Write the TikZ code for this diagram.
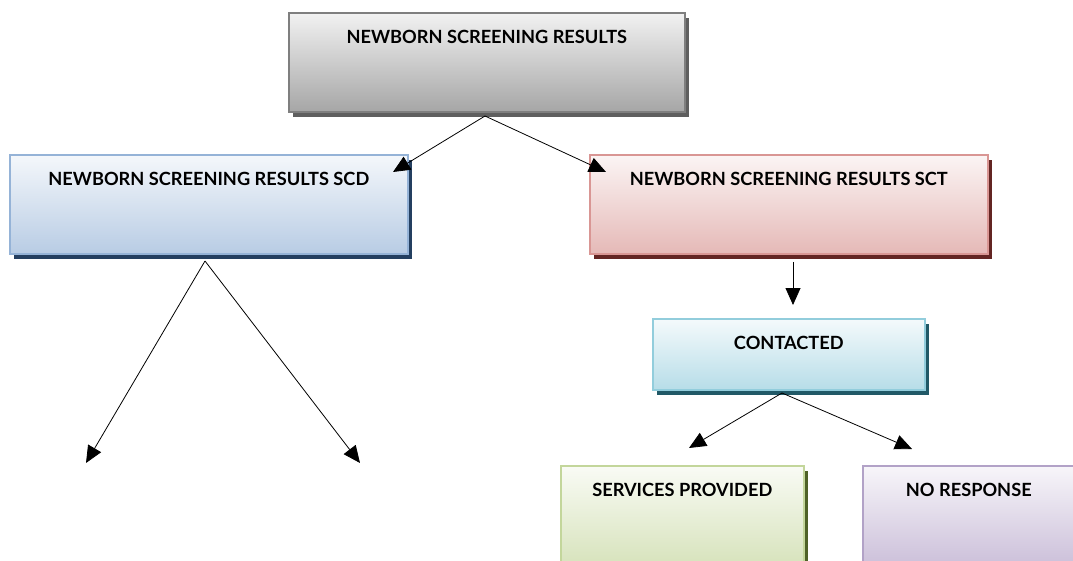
\documentclass[tikz,border=0pt]{standalone}
\usepackage{fontspec}
\setmainfont{Lato}
\usetikzlibrary{shadows,arrows.meta}
\tikzset{
  box/.style n args={3}{draw=#1, line width=1.6pt, top color=#3!15!white, bottom color=#3,
     drop shadow={shadow xshift=4pt, shadow yshift=-5pt, fill=#2, opacity=1},
     anchor=north west, inner sep=0pt, align=center,
     font=\bfseries\fontsize{18.2}{21}\selectfont, text height=31pt},
  conn/.style={draw=black, line width=0.8pt, -{Triangle[length=17pt,width=15pt]}},
}
\definecolor{gB}{HTML}{7F7F7F}\definecolor{gS}{HTML}{5F5F5F}\definecolor{gF}{HTML}{A6A6A6}
\definecolor{bB}{HTML}{95B3D7}\definecolor{bS}{HTML}{243F60}\definecolor{bF}{HTML}{B8CCE4}
\definecolor{rB}{HTML}{D99694}\definecolor{rS}{HTML}{632523}\definecolor{rF}{HTML}{E5B9B7}
\definecolor{tB}{HTML}{92CDDC}\definecolor{tS}{HTML}{215967}\definecolor{tF}{HTML}{B7DDE8}
\definecolor{vB}{HTML}{C3D69B}\definecolor{vS}{HTML}{4F6228}\definecolor{vF}{HTML}{D7E3BC}
\definecolor{pB}{HTML}{B2A2C7}\definecolor{pS}{HTML}{3F3151}\definecolor{pF}{HTML}{CCC0DA}
\begin{document}
\begin{tikzpicture}[x=1pt,y=-1pt]
\useasboundingbox (0,0) rectangle (1073,561);
\clip (0,0) rectangle (1073,561);
\node[box={gB}{gS}{gF}, minimum width=396pt, text depth=68pt] (top) at (288,12) {NEWBORN SCREENING RESULTS};
\node[box={bB}{bS}{bF}, minimum width=398pt, text depth=68pt] (scd) at (9,154) {NEWBORN SCREENING RESULTS SCD};
\node[box={rB}{rS}{rF}, minimum width=398pt, text depth=68pt] (sct) at (589,154) {NEWBORN SCREENING RESULTS SCT};
\node[box={tB}{tS}{tF}, minimum width=272pt, text depth=40pt] (con) at (652,318) {CONTACTED};
\node[box={vB}{vS}{vF}, minimum width=243pt, text depth=68pt] (srv) at (560,465) {SERVICES PROVIDED};
\node[box={pB}{pS}{pF}, minimum width=212pt, text depth=68pt] (nor) at (862,465) {NO RESPONSE};
\coordinate (topo) at (485,116);
\coordinate (scdin) at (393,172);
\coordinate (sctin) at (606,172);
\coordinate (scdo) at (205,261);
\coordinate (la) at (86,463);
\coordinate (ra) at (360,463);
\coordinate (scto) at (793,262);
\coordinate (conin) at (793,305);
\coordinate (cono) at (782,393);
\coordinate (srvin) at (689,448);
\coordinate (norin) at (912,449);
\draw[conn] (topo) -- (scdin);
\draw[conn] (topo) -- (sctin);
\draw[conn] (scdo) -- (la);
\draw[conn] (scdo) -- (ra);
\draw[conn] (scto) -- (conin);
\draw[conn] (cono) -- (srvin);
\draw[conn] (cono) -- (norin);
\end{tikzpicture}
\end{document}
